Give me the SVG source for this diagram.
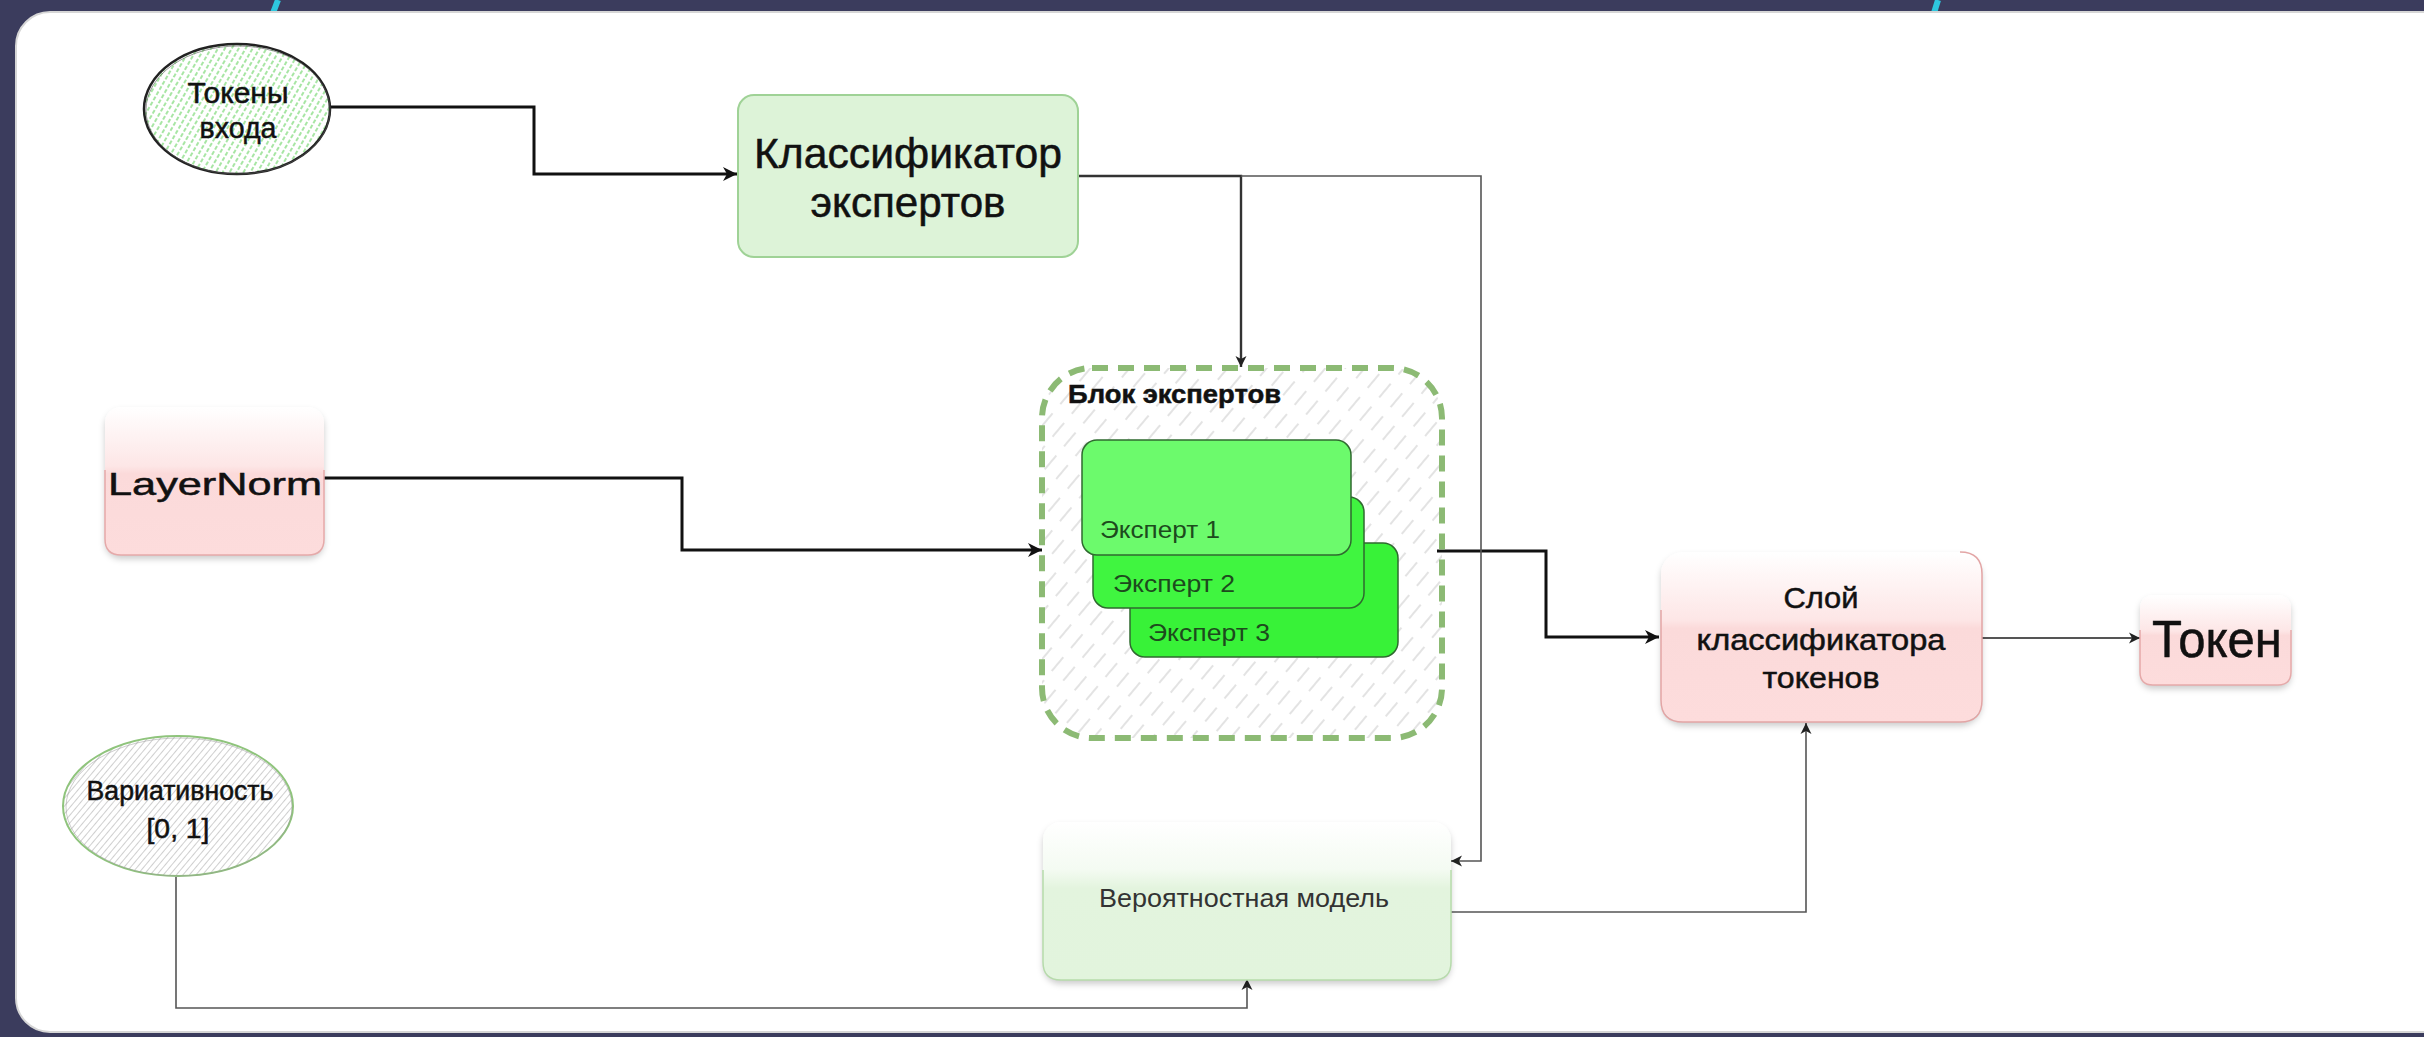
<svg xmlns="http://www.w3.org/2000/svg" width="2424" height="1037" viewBox="0 0 2424 1037">
<defs>
<style>
.hand{font-family:"Liberation Sans","DejaVu Sans",sans-serif;fill:#111;stroke:#111;stroke-width:0.5;}
.plain{font-family:"Liberation Sans","DejaVu Sans",sans-serif;}
.thick{fill:none;stroke:#111;stroke-width:3;}
.thin{fill:none;stroke:#555;stroke-width:1.6;}
.exp{stroke:#2f6a2f;stroke-width:1.5;}
.exptxt{font-family:"Liberation Sans","DejaVu Sans",sans-serif;font-size:24px;fill:#1d4a1d;}
</style>
<pattern id="hatchGreen" patternUnits="userSpaceOnUse" width="6" height="6" patternTransform="rotate(30)">
<line x1="3" y1="0" x2="3" y2="6" stroke="#9ee39a" stroke-width="1.8" stroke-dasharray="4 2"/>
</pattern>
<pattern id="hatchGray" patternUnits="userSpaceOnUse" width="5" height="5" patternTransform="rotate(40)">
<line x1="2.5" y1="0" x2="2.5" y2="5" stroke="#cfcfcf" stroke-width="1"/>
</pattern>
<pattern id="hatchBlock" patternUnits="userSpaceOnUse" width="15" height="30" patternTransform="rotate(40)">
<line x1="7" y1="0" x2="7" y2="18" stroke="#d4d4d4" stroke-width="1.3"/>
</pattern>
<linearGradient id="pink" x1="0" y1="0" x2="0" y2="1">
<stop offset="0" stop-color="#ffffff"/>
<stop offset="0.4" stop-color="#fde6e6"/>
<stop offset="0.45" stop-color="#fbdada"/>
<stop offset="1" stop-color="#fddcdc"/>
</linearGradient>
<linearGradient id="greenGlass" x1="0" y1="0" x2="0" y2="1">
<stop offset="0" stop-color="#ffffff"/>
<stop offset="0.3" stop-color="#f4fbf2"/>
<stop offset="0.42" stop-color="#e3f4de"/>
<stop offset="1" stop-color="#e2f4dd"/>
</linearGradient>
<filter id="shadow" x="-10%" y="-10%" width="120%" height="130%">
<feDropShadow dx="0" dy="4" stdDeviation="3" flood-color="#000" flood-opacity="0.2"/>
</filter>
<marker id="arrowBig" markerUnits="userSpaceOnUse" markerWidth="16" markerHeight="16" refX="14" refY="7" orient="auto" viewBox="0 0 16 14">
<path d="M0,0 L14,7 L0,14 L4,7 Z" fill="#111"/>
</marker>
<marker id="arrowSmall" markerUnits="userSpaceOnUse" markerWidth="12" markerHeight="12" refX="11" refY="5.5" orient="auto" viewBox="0 0 12 11">
<path d="M0,0 L11,5.5 L0,11 L3,5.5 Z" fill="#222"/>
</marker>
</defs>

<!-- background -->
<rect x="0" y="0" width="2424" height="1037" fill="#3b3c5d"/>
<path d="M278,0 L273,13" stroke="#2ec7de" stroke-width="6" fill="none"/>
<path d="M1938,0 L1934,13" stroke="#2ec7de" stroke-width="6" fill="none"/>
<rect x="16" y="12" width="2440" height="1020" rx="34" fill="#ffffff" stroke="#d6d6d6" stroke-width="2"/>

<!-- connectors -->
<g id="connectors">
<path class="thick" d="M330,107 H534 V174 H737" marker-end="url(#arrowBig)"/>
<path class="thick" d="M324,478 H682 V550 H1042" marker-end="url(#arrowBig)"/>
<path class="thick" d="M1437,551 H1546 V637 H1659" marker-end="url(#arrowBig)"/>
<path class="thin" d="M1078,176 H1241 V367" marker-end="url(#arrowSmall)" style="stroke-width:2.4;stroke:#333"/>
<path class="thin" d="M1241,176 H1481 V861 H1451" marker-end="url(#arrowSmall)"/>
<path class="thin" d="M1451,912 H1806 V723" marker-end="url(#arrowSmall)"/>
<path class="thin" d="M176,877 V1008 H1247 V979" marker-end="url(#arrowSmall)"/>
<path class="thin" d="M1982,638 H2140" marker-end="url(#arrowSmall)" style="stroke-width:2"/>
</g>

<!-- Токены входа -->
<g id="node-tokens-in">
<ellipse cx="237" cy="109" rx="93" ry="65" fill="url(#hatchGreen)" stroke="#222" stroke-width="2.5"/>
<ellipse cx="238" cy="110" rx="92" ry="64" fill="none" stroke="#555" stroke-width="1" opacity="0.6"/>
<text class="hand" x="238" y="103" font-size="29" text-anchor="middle" textLength="101" lengthAdjust="spacingAndGlyphs">Токены</text>
<text class="hand" x="238" y="138" font-size="29" text-anchor="middle" textLength="77" lengthAdjust="spacingAndGlyphs">входа</text>
</g>

<!-- Классификатор экспертов -->
<g id="node-classifier">
<rect x="738" y="95" width="340" height="162" rx="16" fill="#ddf3d8" stroke="#9fd296" stroke-width="2"/>
<text class="hand" x="908" y="168" font-size="42" text-anchor="middle" textLength="308" lengthAdjust="spacingAndGlyphs">Классификатор</text>
<text class="hand" x="908" y="217" font-size="42" text-anchor="middle" textLength="195" lengthAdjust="spacingAndGlyphs">экспертов</text>
</g>

<!-- LayerNorm -->
<g id="node-layernorm">
<rect x="105" y="407" width="219" height="148" rx="16" fill="url(#pink)" filter="url(#shadow)"/>
<path d="M105,470 V539 Q105,555 121,555 H308 Q324,555 324,539 V470" fill="none" stroke="#e6a9a9" stroke-width="1.5"/>
<text class="hand" x="215" y="495" font-size="32" text-anchor="middle" textLength="214" lengthAdjust="spacingAndGlyphs">LayerNorm</text>
</g>

<!-- Блок экспертов -->
<g id="node-expert-block">
<rect x="1042" y="368" width="400" height="370" rx="50" fill="url(#hatchBlock)" stroke="#8cba74" stroke-width="6" stroke-dasharray="16 10"/>
<text class="hand" x="1068" y="403" font-size="25" font-weight="bold" textLength="213" lengthAdjust="spacingAndGlyphs">Блок экспертов</text>
</g>

<g id="node-expert-3">
<rect x="1130" y="543" width="268" height="114" rx="15" fill="#38f238" class="exp"/>
<text class="exptxt" x="1148" y="641" textLength="122" lengthAdjust="spacingAndGlyphs">Эксперт 3</text>
</g>
<g id="node-expert-2">
<rect x="1093" y="497" width="271" height="111" rx="15" fill="#40f540" class="exp"/>
<text class="exptxt" x="1113" y="592" textLength="122" lengthAdjust="spacingAndGlyphs">Эксперт 2</text>
</g>
<g id="node-expert-1">
<rect x="1082" y="440" width="269" height="115" rx="15" fill="#6cfa6c" class="exp"/>
<text class="exptxt" x="1100" y="538" textLength="120" lengthAdjust="spacingAndGlyphs">Эксперт 1</text>
</g>

<!-- Слой классификатора токенов -->
<g id="node-token-classifier">
<rect x="1661" y="552" width="321" height="170" rx="22" fill="url(#pink)" filter="url(#shadow)"/>
<path d="M1661,610 V700 Q1661,722 1683,722 H1960 Q1982,722 1982,700 V574 Q1982,552 1960,552" fill="none" stroke="#e3a5a5" stroke-width="1.5"/>
<text class="hand" x="1821" y="608" font-size="30" text-anchor="middle" textLength="75" lengthAdjust="spacingAndGlyphs">Слой</text>
<text class="hand" x="1821" y="650" font-size="30" text-anchor="middle" textLength="249" lengthAdjust="spacingAndGlyphs">классификатора</text>
<text class="hand" x="1821" y="688" font-size="30" text-anchor="middle" textLength="117" lengthAdjust="spacingAndGlyphs">токенов</text>
</g>

<!-- Токен -->
<g id="node-token">
<rect x="2140" y="595" width="151" height="90" rx="13" fill="url(#pink)" filter="url(#shadow)"/>
<path d="M2140,630 V672 Q2140,685 2153,685 H2278 Q2291,685 2291,672 V630" fill="none" stroke="#e6a9a9" stroke-width="1.5"/>
<text class="hand" x="2217" y="657" font-size="52" text-anchor="middle" textLength="130" lengthAdjust="spacingAndGlyphs">Токен</text>
</g>

<!-- Вариативность -->
<g id="node-variability">
<ellipse cx="178" cy="806" rx="115" ry="70" fill="url(#hatchGray)" stroke="#8fc47c" stroke-width="2"/>
<ellipse cx="179" cy="807" rx="113" ry="69" fill="none" stroke="#9a9a9a" stroke-width="1" opacity="0.5"/>
<text class="hand" x="180" y="800" font-size="27" text-anchor="middle" textLength="187" lengthAdjust="spacingAndGlyphs">Вариативность</text>
<text class="hand" x="178" y="838" font-size="27" text-anchor="middle" textLength="63" lengthAdjust="spacingAndGlyphs">[0, 1]</text>
</g>

<!-- Вероятностная модель -->
<g id="node-probabilistic">
<rect x="1043" y="822" width="408" height="158" rx="18" fill="url(#greenGlass)" filter="url(#shadow)"/>
<path d="M1043,870 V962 Q1043,980 1061,980 H1433 Q1451,980 1451,962 V870" fill="none" stroke="#b6dbab" stroke-width="1.5"/>
<text class="plain" x="1244" y="907" font-size="25" fill="#333" text-anchor="middle" textLength="290" lengthAdjust="spacingAndGlyphs">Вероятностная модель</text>
</g>
</svg>
